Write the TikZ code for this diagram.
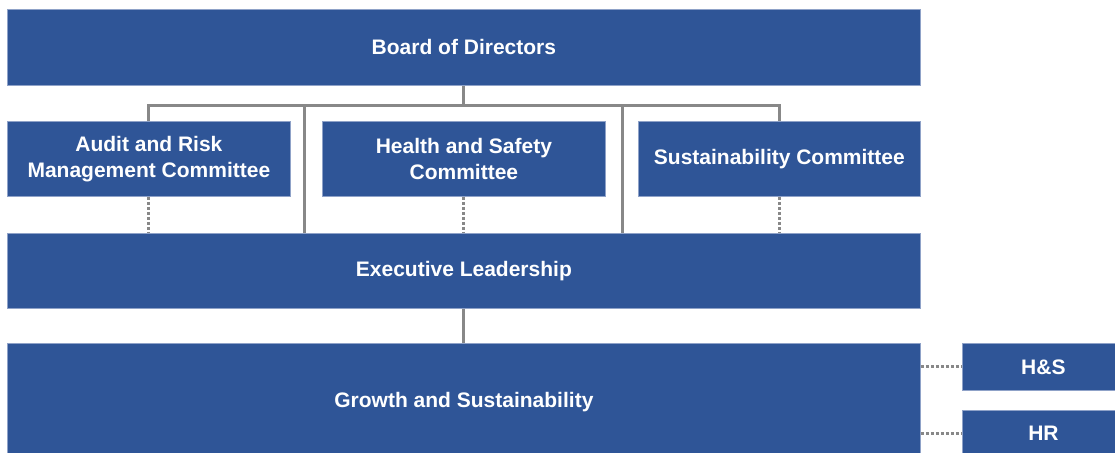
\documentclass[tikz,border=0pt]{standalone}
\usepackage{fontspec}
\setmainfont{Liberation Sans}
\usetikzlibrary{calc}
\definecolor{orgblue}{HTML}{2F5597}
\definecolor{orgedge}{HTML}{8FA2C8}
\definecolor{linkgray}{HTML}{888888}
\begin{document}
\begin{tikzpicture}[x=1pt,y=-1pt,
  unit/.style={draw=orgedge, line width=0.8pt, fill=orgblue, text=white,
    font=\fontsize{21}{26}\selectfont\bfseries, align=center,
    anchor=north west, inner sep=0pt},
  link/.style={draw=linkgray, line width=3pt},
  dotlink/.style={draw=linkgray, line width=3pt, dash pattern=on 3pt off 2pt}]
\useasboundingbox (0,0) rectangle (1115,452);

% boxes
\node[unit, minimum width=913, minimum height=76] (board) at (7,9) {Board of Directors};
\node[unit, minimum width=283, minimum height=75] (audit) at (7,121) {Audit and Risk\\Management Committee};
\node[unit, minimum width=283, minimum height=75] (health) at (322,121) {Health and Safety\\Committee};
\node[unit, minimum width=282, minimum height=75] (sust) at (638,121) {Sustainability Committee};
\node[unit, minimum width=913, minimum height=75] (exec) at (7,233) {Executive Leadership};
\node[unit, minimum width=913, minimum height=118] (growth) at (7,343) {Growth and Sustainability};
\node[unit, minimum width=162, minimum height=47] (hs) at (962,343) {H\&S};
\node[unit, minimum width=162, minimum height=46] (hr) at (962,410) {HR};

% bus below the board
\coordinate (bus) at ($(board.south)+(0,20)$);
\coordinate (busL) at (bus -| audit.north);
\coordinate (busR) at (bus -| sust.north);
\coordinate (tapA) at (304,105);
\coordinate (tapB) at (622,105);

\draw[link] (board.south) -- (bus);
\draw[link] (audit.north) -- (busL) -- (busR) -- (sust.north);
\draw[link] (tapA |- bus) -- (tapA |- exec.north);
\draw[link] (tapB |- bus) -- (tapB |- exec.north);

% dotted ties from committees to leadership
\draw[dotlink] (audit.south) -- (audit.south |- exec.north);
\draw[dotlink] (health.south) -- (health.south |- exec.north);
\draw[dotlink] (sust.south) -- (sust.south |- exec.north);

% leadership to growth
\draw[link] (exec.south) -- (exec.south |- growth.north);

% side functions
\draw[dotlink] (hs.west -| growth.east) -- (hs.west);
\draw[dotlink] (hr.west -| growth.east) -- (hr.west);
\end{tikzpicture}
\end{document}
